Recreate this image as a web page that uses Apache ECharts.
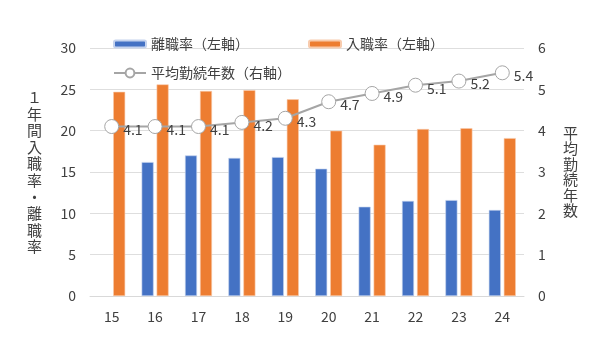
<!DOCTYPE html>
<html><head><meta charset="utf-8">
<script src="https://cdn.jsdelivr.net/npm/echarts@6/dist/echarts.min.js"></script>
<style>html,body{margin:0;padding:0;background:#fff}#c{width:591px;height:337px}</style>
</head><body><div id="c"></div>
<script>
const categories = ['15','16','17','18','19','20','21','22','23','24'];
const leaveRate = [null, 16.2, 17.0, 16.7, 16.8, 15.4, 10.8, 11.5, 11.6, 10.4];
const joinRate = [24.7, 25.6, 24.8, 24.9, 23.8, 20.0, 18.3, 20.2, 20.3, 19.1];
const tenure = [4.1, 4.1, 4.1, 4.2, 4.3, 4.7, 4.9, 5.1, 5.2, 5.4];
const seriesNames = ['離職率（左軸）', '入職率（左軸）', '平均勤続年数（右軸）'];
const leftName = '１年間入職率・離職率';
const rightName = '平均勤続年数';

const font = '"Noto Sans CJK JP", "Noto Sans", sans-serif';
const chart = echarts.init(document.getElementById('c'));
const legendText = {color: '#404040', fontSize: 14, fontFamily: font};
chart.setOption({
  animation: false,
  textStyle: {fontFamily: font},
  grid: {left: 90, right: 67, top: 48, bottom: 41},
  legend: [
    {data: [seriesNames[0]], left: 108, top: 32, itemWidth: 32, itemHeight: 7, itemGap: 3, textStyle: legendText},
    {data: [seriesNames[1]], left: 303, top: 32, itemWidth: 32, itemHeight: 7, textStyle: legendText},
    {data: [seriesNames[2]], left: 108, top: 61, itemWidth: 32, itemHeight: 11, textStyle: legendText}
  ],
  xAxis: {
    type: 'category', data: categories,
    axisLine: {lineStyle: {color: '#d9d9d9'}},
    axisTick: {show: false},
    axisLabel: {color: '#404040', fontSize: 14, margin: 14, fontFamily: font}
  },
  yAxis: [
    {
      type: 'value', min: 0, max: 30, interval: 5,
      name: leftName.split('').join('\n'), nameLocation: 'middle', nameRotate: 0, nameGap: 48,
      nameTextStyle: {color: '#404040', fontSize: 15, lineHeight: 16.6, fontFamily: font},
      axisLine: {show: false}, axisTick: {show: false},
      axisLabel: {color: '#404040', fontSize: 14, margin: 14, fontFamily: font},
      splitLine: {lineStyle: {color: '#dedede'}}
    },
    {
      type: 'value', min: 0, max: 6, interval: 1,
      name: rightName.split('').join('\n'), nameLocation: 'middle', nameRotate: 0, nameGap: 39,
      nameTextStyle: {color: '#404040', fontSize: 15, lineHeight: 15.5, fontFamily: font},
      axisLine: {show: false}, axisTick: {show: false},
      axisLabel: {color: '#404040', fontSize: 14, margin: 14, fontFamily: font},
      splitLine: {show: false}
    }
  ],
  series: [
    {name: seriesNames[0], type: 'bar', data: leaveRate, barWidth: 12, barGap: '25%',
     itemStyle: {color: '#4472c4', borderColor: '#c5d3ee', borderWidth: 0.6}},
    {name: seriesNames[1], type: 'bar', data: joinRate, barWidth: 12,
     itemStyle: {color: '#ed7d31', borderColor: '#f8cbad', borderWidth: 0.6}},
    {name: seriesNames[2], type: 'line', yAxisIndex: 1, data: tenure,
     symbol: 'circle', symbolSize: 14,
     lineStyle: {color: '#a5a5a5', width: 2},
     itemStyle: {color: '#ffffff', borderColor: '#a5a5a5', borderWidth: 1},
     label: {show: true, position: 'right', distance: 4, offset: [0, 3], color: '#404040', fontSize: 14, fontFamily: font},
     z: 5}
  ]
});
</script></body></html>
